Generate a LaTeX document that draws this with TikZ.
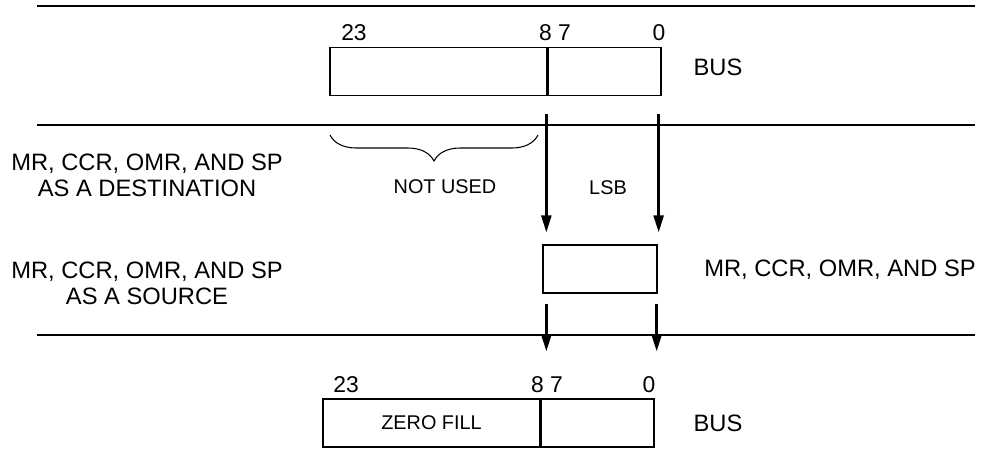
\documentclass[tikz,border=0pt]{standalone}
\usepackage{fontspec}
\setmainfont{Liberation Sans}
\usepackage{tikz}
\usetikzlibrary{arrows.meta,calc,decorations.pathreplacing}
\tikzset{
  field/.style={draw=black, line width=0.75pt, minimum height=0.95cm, inner sep=0pt, font=\fontsize{11.3}{13}\selectfont},
  busline/.style={line width=1.6pt},
  divider/.style={line width=1.4pt},
  arrow/.style={-{Triangle[length=0.34cm, width=0.2cm]}, line width=1.4pt},
  bitnum/.style={inner sep=0pt, font=\fontsize{13}{15}\selectfont},
  bigtext/.style={inner sep=0pt, align=center, font=\fontsize{13.5}{14.7}\selectfont},
  smalltext/.style={inner sep=0pt, font=\fontsize{11.3}{13}\selectfont},
  bracepath/.style={decorate, decoration={brace, mirror, amplitude=0.52cm}, line width=0.6pt}
}

\begin{document}
\begin{tikzpicture}[x=0.02cm, y=-0.02cm]
  \useasboundingbox (0,0) rectangle (984,451);

  \coordinate (l1w) at (37,6);   \coordinate (l1e) at (975,6);
  \coordinate (l2w) at (37,125); \coordinate (l2e) at (975,125);
  \coordinate (l3w) at (37,335); \coordinate (l3e) at (975,335);
  \draw[busline] (l1w) -- (l1e);
  \draw[busline] (l2w) -- (l2e);
  \draw[busline] (l3w) -- (l3e);

  \node[field, minimum width=4.34cm] (tophi) at (438.5,71.5) {};
  \node[field, minimum width=2.28cm] (toplo) at (604,71.5) {};
  \draw[divider] (tophi.north east) -- (tophi.south east);
  \node[bitnum] (t23) at (354,33) {23};
  \node[bitnum] (t87) at (555,33) {8 7};
  \node[bitnum] (t0) at (659,33) {0};
  \node[bigtext] (topbus) at (718,67) {BUS};

  \draw[bracepath] (330,135) -- (538,135);
  \node[smalltext] (notused) at (445,187) {NOT USED};
  \node[smalltext] (lsb) at (608,188) {LSB};
  \node[bigtext] (dest) at (147,175) {MR, CCR, OMR, AND SP\\AS A DESTINATION};

  \node[field, minimum width=2.28cm, minimum height=0.96cm] (midbox) at (600,269) {};
  \node[bigtext] (src) at (147,283.5) {MR, CCR, OMR, AND SP\\AS A SOURCE};
  \node[bigtext] (regs) at (840,270) {MR, CCR, OMR, AND SP};

  \draw[arrow] ($(toplo.south west)+(0,18)$) -- ($(midbox.north west)+(4,-12)$);
  \draw[arrow] ($(toplo.south east)+(-3,18)$) -- ($(midbox.north east)+(1,-12)$);

  \node[field, minimum width=4.34cm, minimum height=0.96cm] (bothi) at (431.5,423) {ZERO FILL};
  \node[field, minimum width=2.28cm, minimum height=0.96cm] (botlo) at (597,423) {};
  \draw[divider] (bothi.north east) -- (bothi.south east);
  \node[bitnum] (b23) at (346,385) {23};
  \node[bitnum] (b87) at (547,385) {8 7};
  \node[bitnum] (b0) at (649,385) {0};
  \node[bigtext] (botbus) at (718,423) {BUS};

  \draw[arrow] ($(midbox.south west)+(4,10)$) -- ($(botlo.north west)+(7,-47)$);
  \draw[arrow] ($(midbox.south east)+(-1,10)$) -- ($(botlo.north east)+(2,-47)$);
\end{tikzpicture}
\end{document}
